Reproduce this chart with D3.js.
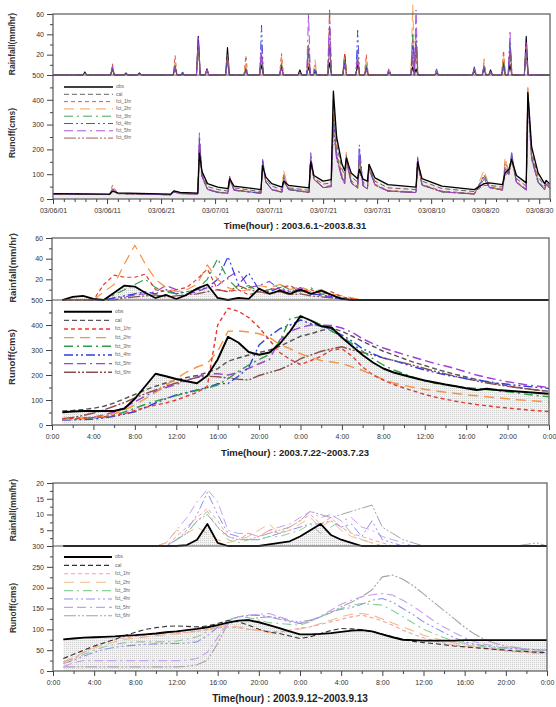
<!DOCTYPE html>
<html><head><meta charset="utf-8">
<script src="https://cdn.jsdelivr.net/npm/d3@7"></script>
<style>body{margin:0;background:#fff}svg{display:block}text{font-family:Arial,"Liberation Sans",sans-serif}</style>
</head><body><svg id="c" width="556" height="707"></svg>
<script>
// ---------------- series ----------------
const SERIES = ["obs","cal","fct_1hr","fct_2hr","fct_3hr","fct_4hr","fct_5hr","fct_6hr"];
const COLORS = ["#000000","#555555","#e8392f","#f5953f","#2e9e48","#2f3fe0","#a040d8","#8c4f4f"];
const COLORS_LIGHT = ["#000000","#333333","#f2a0a8","#f5b98a","#8ccf9c","#8f8fef","#c7a0ee","#a9a0a8"];
const DASHES = [null,"5,3","4,3","10,6","9,4,2,4","9,3,2,3,2,3","9,4,9,4,2,4","12,2,2,2,2,2"];

// ---------------- panel 1 : 2003.6.1~2003.8.31 (days since 06/01) ----------------
const P1_DATE_TICKS = [0,10,20,30,40,50,60,70,80,90];
const P1_DATE_LABELS = ["03/06/01","03/06/11","03/06/21","03/07/01","03/07/11","03/07/21","03/07/31","03/08/10","03/08/20","03/08/30"];
const P1_T = [0,10.5,11,12,21.8,22.4,23.5,26.8,27.1,27.6,28.6,30.5,32.4,32.7,33.5,38.5,38.8,39.4,40.5,42.4,42.7,43.6,47.4,47.7,48.3,50,51.5,51.9,52.5,53.5,54.0,54.3,55.2,56.4,56.7,57.4,58.2,58.5,59.6,62,67.2,67.5,68.3,72,78,79.8,80.8,83.2,83.7,84.4,84.9,85.8,87.6,87.9,88.6,89.8,91.0,91.3,92];
const P1_Q_obs = [22,20,32,25,20,33,27,24,185,110,62,48,42,82,52,38,135,88,62,48,72,55,45,150,95,72,78,435,250,140,115,165,105,82,120,80,72,140,85,58,48,150,82,52,38,62,65,58,105,120,160,95,65,430,210,105,62,75,60];
const P1_Q_cal = [20,18,28,22,18,30,25,22,170,100,50,38,32,75,45,30,125,80,52,38,65,45,35,140,85,60,65,400,220,120,95,150,90,68,110,68,58,130,72,45,38,140,72,42,30,55,55,48,95,110,150,82,52,410,190,90,52,70,52];
const P1_Q_f1 = [20,18,55,22,17,30,22,20,230,90,40,28,25,90,38,25,150,70,40,30,105,40,28,160,80,48,55,380,190,95,70,180,75,50,150,55,45,135,60,35,28,160,60,32,22,95,50,40,150,110,170,70,40,449,180,75,42,68,45];
const P1_Q_f2 = [20,18,45,22,17,28,22,20,220,85,38,27,24,85,36,24,145,68,38,28,114,40,27,165,78,46,52,360,180,90,66,190,70,48,160,52,42,130,58,33,27,165,58,30,21,117,48,38,169,105,160,68,38,440,175,72,40,65,43];
const P1_Q_f3 = [20,18,40,22,17,28,22,20,240,88,38,26,23,80,35,23,150,68,37,27,90,38,26,170,80,45,50,340,175,88,64,175,68,46,180,52,40,125,56,32,26,160,56,29,20,100,46,36,140,100,175,66,36,420,170,70,38,62,42];
const P1_Q_f4 = [20,18,40,22,17,28,22,20,250,90,38,26,23,85,35,23,161,70,37,27,85,38,26,175,80,45,50,320,170,85,62,170,66,45,218,55,40,130,56,32,26,165,56,29,20,90,46,36,130,105,185,66,36,410,165,68,38,60,42];
const P1_Q_f5 = [20,18,42,22,17,28,22,20,267,95,38,26,23,93,35,23,160,70,37,27,80,38,26,187,85,45,50,300,165,82,60,165,64,44,200,55,40,140,56,32,26,170,56,29,20,85,46,36,125,100,187,66,36,400,160,66,37,60,42];
const P1_Q_f6 = [20,18,38,22,17,28,22,20,210,92,40,28,24,78,36,24,140,68,38,28,75,38,27,160,80,46,50,280,160,82,60,150,64,44,170,55,40,120,56,32,26,140,56,29,20,80,46,36,120,95,170,66,36,390,160,66,37,58,42];
const P1_RAIN_DAYS = [5.9,11.0,13.5,16.0,22.6,24.0,26.9,28.5,32.3,35.7,38.6,42.3,45.7,47.3,48.5,51.2,54.0,56.4,58.0,62.2,66.6,67.2,71.0,78.0,79.8,81.0,83.4,84.6,87.6];
const P1_R_obs = [3,6,2,2,8,1,38,6,27,6,10,8,5,8,4,12,20,10,8,3,8,6,2,4,6,5,12,10,38];
const P1_R_f1 = [2,11,1,1,19,2,30,5,20,19,22,21,2,12,10,30,21,15,20,7,40,20,3,5,12,4,24,20,30];
const P1_R_f2 = [2,8,1,1,12,3,25,5,18,12,15,18,2,15,15,64,18,8,15,4,69,25,3,6,16,3,20,25,28];
const P1_R_f3 = [2,6,1,1,10,2,28,4,16,8,18,12,2,20,8,25,15,20,10,3,40,30,3,8,10,3,15,30,25];
const P1_R_f4 = [2,7,2,1,9,3,35,5,15,5,49,10,2,25,6,49,12,44,8,5,30,40,6,8,9,3,10,35,22];
const P1_R_f5 = [2,9,1,1,8,2,39,6,14,4,30,8,2,61,5,64,10,25,6,6,20,64,4,7,8,3,8,42,32];
const P1_R_f6 = [2,5,1,1,6,1,30,4,12,3,20,6,2,30,3,28,8,15,4,2,15,35,2,5,5,2,6,28,20];

// ---------------- panel 2 : 2003.7.22~2003.7.23 (hour 1..48) ----------------
const HOURS = d3.range(1,49);
const HOUR_TICKS = [0,4,8,12,16,20,24,28,32,36,40,44,48];
const HOUR_LABELS = ["0:00","4:00","8:00","12:00","16:00","20:00","0:00","4:00","8:00","12:00","16:00","20:00","0:00"];
const P2_Q_obs = [51,54,56,56,56,56,66,105,155,205,195,184,175,167,197,262,353,330,292,281,290,325,375,436,418,395,390,350,315,280,250,226,210,199,188,178,170,162,155,147,140,145,140,137,134,131,128,125];
const P2_Q_cal = [56,58,62,67,75,88,105,122,140,155,168,180,190,198,210,225,255,268,280,290,300,315,335,355,365,378,387,375,355,335,315,295,280,265,250,238,225,213,202,192,182,173,165,157,150,144,139,135];
const P2_Q_f1 = [25,27,28,30,33,38,45,58,70,80,88,100,115,130,155,400,467,455,430,390,340,290,262,242,258,275,300,305,275,232,200,180,162,148,135,122,112,103,95,88,82,77,72,68,64,60,57,54];
const P2_Q_f2 = [22,24,27,30,36,45,60,80,105,130,160,185,212,232,247,295,375,376,372,365,350,322,305,285,270,258,252,246,232,218,200,182,168,158,150,143,137,131,126,121,117,113,109,105,101,98,95,92];
const P2_Q_f3 = [22,24,26,28,32,40,52,67,82,95,107,118,128,138,148,160,185,215,240,262,282,335,425,433,420,400,375,355,325,295,265,240,220,205,190,177,167,160,155,150,146,142,138,133,128,122,117,113];
const P2_Q_f4 = [20,21,22,24,28,35,44,53,70,88,105,120,130,140,150,165,166,195,230,320,355,385,400,420,405,395,382,360,335,305,285,268,258,245,232,220,210,200,193,186,180,174,168,163,158,154,150,146];
const P2_Q_f5 = [22,24,27,32,40,52,70,93,115,135,150,162,178,192,205,205,200,210,227,245,262,340,375,390,400,400,398,388,370,345,325,308,295,282,270,258,246,236,225,212,200,190,181,173,166,160,155,150];
const P2_Q_f6 = [25,30,38,48,60,75,90,108,125,140,155,168,180,190,195,193,188,183,180,198,210,222,240,265,280,295,305,313,300,290,280,268,258,248,238,226,215,204,194,185,176,168,161,155,149,144,139,135];
const P2_R_obs = [0,3,4,1,0,7,14,13,7,2,5,1,5,11,15,2,0,2,1,11,6,9,6,10,6,9,5,1,0,0,0,0,0,0,0,0,0,0,0,0,0,0,0,0,0,0,0,0];
const P2_R_f1 = [0,0,0,0,15,24,22,22,25,10,8,10,12,20,30,10,8,10,5,8,10,12,14,8,10,6,8,3,1,0,0,0,0,0,0,0,0,0,0,0,0,0,0,0,0,0,0,0];
const P2_R_f2 = [0,0,0,0,8,15,35,53,35,20,12,8,10,15,34,20,12,8,10,14,12,15,10,13,8,10,6,4,2,0,0,0,0,0,0,0,0,0,0,0,0,0,0,0,0,0,0,0];
const P2_R_f3 = [0,0,0,0,0,5,10,15,20,12,8,6,8,10,20,40,20,10,14,8,10,15,10,8,12,6,4,2,0,0,0,0,0,0,0,0,0,0,0,0,0,0,0,0,0,0,0,0];
const P2_R_f4 = [0,0,0,0,0,2,4,6,8,6,10,6,8,10,12,20,42,15,26,10,8,12,8,10,6,5,3,1,0,0,0,0,0,0,0,0,0,0,0,0,0,0,0,0,0,0,0,0];
const P2_R_f5 = [0,0,0,0,0,2,3,5,6,8,14,10,6,8,12,14,22,28,12,14,18,10,8,12,6,4,3,1,0,0,0,0,0,0,0,0,0,0,0,0,0,0,0,0,0,0,0,0];
const P2_R_f6 = [0,0,0,0,0,0,2,3,4,5,3,4,5,6,8,10,8,14,10,8,6,8,5,6,4,3,2,1,0,0,0,0,0,0,0,0,0,0,0,0,0,0,0,0,0,0,0,0];

// ---------------- panel 3 : 2003.9.12~2003.9.13 (hour 1..48) ----------------
const P3_Q_obs = [76,78,80,81,82,83,85,86,88,90,93,95,98,101,105,110,116,121,122,117,110,103,95,88,88,89,91,94,97,98,95,88,81,75,74,73,73,73,73,74,74,74,74,74,74,74,74,74];
const P3_Q_cal = [30,40,50,60,68,76,85,93,100,104,107,108,107,106,108,114,121,118,110,100,93,90,84,78,82,90,97,102,101,99,95,89,82,76,71,68,66,63,60,58,56,54,52,50,48,47,45,44];
const P3_Q_f1 = [18,30,45,58,68,75,80,83,86,89,91,92,93,95,99,103,106,104,100,98,95,94,98,103,106,112,118,124,130,134,128,120,110,98,88,80,73,67,62,59,56,53,51,48,46,44,43,42];
const P3_Q_f2 = [22,33,45,55,63,70,76,79,82,85,87,89,92,96,100,105,110,106,100,97,92,94,97,101,106,114,122,130,136,138,134,125,115,106,96,86,79,72,67,63,59,55,52,49,47,45,43,42];
const P3_Q_f3 = [22,30,40,50,58,64,68,70,70,70,70,72,76,82,95,110,122,130,128,122,116,114,112,110,118,130,142,150,158,162,160,158,145,130,115,100,90,80,72,66,62,58,55,52,50,48,47,46];
const P3_Q_f4 = [18,26,36,45,52,57,60,62,64,65,66,66,67,70,85,105,122,130,133,134,130,124,118,114,120,130,142,148,152,160,170,174,165,150,135,118,105,92,80,70,64,60,57,55,53,52,51,50];
const P3_Q_f5 = [10,20,25,25,25,25,25,25,25,25,25,25,26,30,45,80,118,130,134,136,138,130,122,114,120,132,146,160,170,178,183,186,182,170,155,138,120,105,92,80,70,64,60,56,54,52,51,50];
const P3_Q_f6 = [10,10,10,10,10,10,10,10,10,10,10,10,11,15,26,66,114,120,124,128,130,128,120,118,122,130,140,154,165,178,195,226,230,220,205,185,165,145,125,105,88,75,66,60,56,53,51,50];
const P3_R_obs = [0,0,0,0,0,0,0,0,0,0,0,0,0.3,2,7,1,0,0,0,0,0.5,1,1.5,3,5,7,3.5,2,1,0,0,0,0,0,0,0,0,0,0,0,0,0,0,0,0,0,0,0];
const P3_R_f1 = [0,0,0,0,0,0,0,0,0,0,0,3,6,9,12,8,3,2,4,3,5,4,6,8,10,7,9,6,4,3,2,1,0,0,0,0,0,0,0,0,0,0,0,0,0,0,0,0];
const P3_R_f2 = [0,0,0,0,0,0,0,0,0,0,1,5,4,6,4,2,1,2,3,5,7,4,5,7,9,6,8,5,3,2,1,0,0,0,0,0,0,0,0,0,0,0,0,0,0,0,0,0];
const P3_R_f3 = [0,0,0,0,0,0,0,0,0,0,0,2,4,8,11,6,2,1,2,2,3,3,4,5,7,4,6,8,4,2,1,0,0,0,0,0,0,0,0,0,0,0,0,0,0,0,0,0];
const P3_R_f4 = [0,0,0,0,0,0,0,0,0,0,0,2,5,10,17,10,4,3,2,2,3,4,5,6,7,7,8,6,7,3,8,2,1,0,0,0,0,0,0,0,0,0,0,0,0,0,0,0];
const P3_R_f5 = [0,0,0,0,0,0,0,0,0,0,1,5,9,14,18,14,5,4,4,3,5,6,7,9,11,9,10,8,9,6,5,3,2,1,0,0,0,0,0,0,0,0,0,0,0,0,0,0];
const P3_R_f6 = [0,0,0,0,0,0,0,0,0,0,0,2,4,8,10,6,3,2,2,3,4,5,6,8,11,10,9,10,11,12,13,6,4,2,1,0,0,0,0,0,0,0,0,0,0,0.5,1,0];

// ---------------- drawing ----------------
const svg = d3.select("#c");
const defs = svg.append("defs");
const pat = defs.append("pattern").attr("id","hatch").attr("patternUnits","userSpaceOnUse").attr("width",2).attr("height",2);
pat.append("rect").attr("width",2).attr("height",2).attr("fill","#f3f3f3");
pat.append("rect").attr("width",1).attr("height",1).attr("fill","#d0d0d0");

const RAIN_IDX = [0,2,3,4,5,6,7]; // rainfall series -> SERIES index

function spikes(days, vals, end) {
  const pts = [[0,0]];
  days.forEach((d,i) => { pts.push([d-0.35,0],[d,vals[i]],[d+0.35,0]); });
  pts.push([end,0]);
  return pts;
}

function drawPanel(c) {
  const g = svg.append("g");
  const x = d3.scaleLinear().domain(c.xDomain).range([c.x0, c.x1]);
  const yR = d3.scaleLinear().domain([0, c.rainMax]).range([c.yBase, c.yTop]);
  const yQ = d3.scaleLinear().domain([0, c.qMax]).range([c.yBottom, c.yBase]);
  const lineR = d3.line().x(d => x(d[0])).y(d => yR(d[1]));
  const lineQ = d3.line().x(d => x(d[0])).y(d => yQ(d[1]));
  const cols = c.colors;

  g.append("path").datum(c.q[0]).attr("fill", c.qFill)
    .attr("d", d3.area().x(d => x(d[0])).y0(yQ(0)).y1(d => yQ(d[1])));
  if (c.rainFill) g.append("path").datum(c.r[0]).attr("fill", c.rainFill)
    .attr("d", d3.area().x(d => x(d[0])).y0(yR(0)).y1(d => yR(d[1])));

  c.qOrder.forEach(i => {
    g.append("path").datum(c.q[i]).attr("d", lineQ).attr("fill","none")
      .attr("stroke", cols[i]).attr("stroke-width", i === 0 ? c.obsW : c.lw)
      .attr("stroke-dasharray", DASHES[i]).attr("stroke-linejoin","round");
  });
  c.rOrder.forEach(k => {
    const i = RAIN_IDX[k];
    g.append("path").datum(c.r[k]).attr("d", lineR).attr("fill","none")
      .attr("stroke", cols[i]).attr("stroke-width", i === 0 ? c.obsRW : c.rlw)
      .attr("stroke-dasharray", DASHES[i]).attr("stroke-linejoin","round");
  });

  g.append("rect").attr("x", c.x0).attr("y", c.yTop).attr("width", c.x1 - c.x0).attr("height", c.yBottom - c.yTop)
    .attr("fill","none").attr("stroke","#666").attr("stroke-width",1.3);
  g.append("line").attr("x1", c.x0).attr("x2", c.x1).attr("y1", c.yBase).attr("y2", c.yBase)
    .attr("stroke","#555").attr("stroke-width",1.1);

  function styleAxis(ax, fs) {
    ax.select(".domain").remove();
    ax.selectAll("line").attr("stroke","#444").attr("stroke-width",1);
    ax.selectAll("text").attr("font-size", fs).attr("fill","#333").attr("font-family","Arial, 'Liberation Sans', sans-serif");
  }
  [[yR, c.rMajor, c.rLabels, c.rMinor],[yQ, c.qMajor, c.qLabels, c.qMinor]].forEach(([s, maj, lab, mn]) => {
    const a = g.append("g").attr("transform", `translate(${c.x0},0)`)
      .call(d3.axisLeft(s).tickValues(maj).tickSize(6).tickPadding(3).tickFormat((d,i) => lab[i]));
    styleAxis(a, c.tickFs);
    const b = g.append("g").attr("transform", `translate(${c.x0},0)`)
      .call(d3.axisLeft(s).tickValues(mn).tickSize(3).tickFormat(""));
    styleAxis(b, c.tickFs);
  });
  const xa = g.append("g").attr("transform", `translate(0,${c.yBottom})`)
    .call(d3.axisBottom(x).tickValues(c.xMajor).tickSize(5).tickPadding(4).tickFormat((d,i) => c.xLabels[i]));
  styleAxis(xa, c.tickFs);
  const xb = g.append("g").attr("transform", `translate(0,${c.yBottom})`)
    .call(d3.axisBottom(x).tickValues(c.xMinor).tickSize(3).tickFormat(""));
  styleAxis(xb, c.tickFs);

  g.append("text").attr("x", c.titleX).attr("y", c.titleY).attr("text-anchor","middle")
    .attr("font-size", c.titleFs).attr("font-weight","bold").attr("fill","#222").text(c.title);
  g.append("text").attr("transform", `translate(${c.rTitle[0]},${c.rTitle[1]}) rotate(-90)`)
    .attr("text-anchor","middle").attr("dominant-baseline","middle")
    .attr("font-size", c.yTitleFs).attr("font-weight","bold").attr("fill","#333").text("Rainfall(mm/hr)");
  g.append("text").attr("transform", `translate(${c.qTitle[0]},${c.qTitle[1]}) rotate(-90)`)
    .attr("text-anchor","middle").attr("dominant-baseline","middle")
    .attr("font-size", c.yTitleFs).attr("font-weight","bold").attr("fill","#333").text("Runoff(cms)");

  SERIES.forEach((name, i) => {
    const y = c.leg.y0 + i * c.leg.dy;
    g.append("line").attr("x1", c.leg.x1).attr("x2", c.leg.x2).attr("y1", y).attr("y2", y)
      .attr("stroke", cols[i]).attr("stroke-width", i === 0 ? c.obsW : c.lw).attr("stroke-dasharray", DASHES[i]);
    g.append("text").attr("x", c.leg.tx).attr("y", y).attr("dominant-baseline","middle")
      .attr("font-size", c.leg.fs).attr("fill","#666").text(name);
  });
}

const even = (a,b,s) => d3.range(a,b+0.001,s);

const p1q = [P1_Q_obs,P1_Q_cal,P1_Q_f1,P1_Q_f2,P1_Q_f3,P1_Q_f4,P1_Q_f5,P1_Q_f6].map(v => P1_T.map((t,k) => [t, v[k]]));
const p1r = [P1_R_obs,P1_R_f1,P1_R_f2,P1_R_f3,P1_R_f4,P1_R_f5,P1_R_f6].map(v => spikes(P1_RAIN_DAYS, v, 92));
drawPanel({
  xDomain:[0,92], x0:53, x1:550, yTop:14, yBase:75, yBottom:199, rainMax:60, qMax:500,
  q:p1q, r:p1r, qFill:"#ececec", rainFill:null, colors:COLORS,
  qOrder:[1,2,3,4,5,7,6,0], rOrder:[0,1,2,3,4,6,5],
  lw:0.9, obsW:1.3, rlw:0.9, obsRW:1.1,
  rMajor:[20,40,60], rLabels:["20","40","60"], rMinor:[10,30,50],
  qMajor:[0,100,200,300,400,500], qLabels:["0","100","200","300","400","500"], qMinor:[50,150,250,350,450],
  xMajor:P1_DATE_TICKS, xLabels:P1_DATE_LABELS, xMinor:even(2,92,2).filter(d => d % 10 !== 0),
  tickFs:7, title:"Time(hour) : 2003.6.1~2003.8.31", titleX:295, titleY:229, titleFs:9.5,
  rTitle:[13,44], qTitle:[13,133], yTitleFs:8.5,
  leg:{x1:64, x2:113, tx:116, y0:87, dy:7.3, fs:5}
});

const p2q = [P2_Q_obs,P2_Q_cal,P2_Q_f1,P2_Q_f2,P2_Q_f3,P2_Q_f4,P2_Q_f5,P2_Q_f6].map(v => HOURS.map((h,k) => [h, v[k]]));
const p2r = [P2_R_obs,P2_R_f1,P2_R_f2,P2_R_f3,P2_R_f4,P2_R_f5,P2_R_f6].map(v => HOURS.map((h,k) => [h, v[k]]));
drawPanel({
  xDomain:[0,48], x0:52, x1:549, yTop:238, yBase:300, yBottom:425, rainMax:60, qMax:500,
  q:p2q, r:p2r, qFill:"url(#hatch)", rainFill:"url(#hatch)", colors:COLORS,
  qOrder:[1,7,6,5,4,3,2,0], rOrder:[6,5,4,3,2,1,0],
  lw:1.4, obsW:1.9, rlw:1.2, obsRW:1.8,
  rMajor:[20,40,60], rLabels:["20","40","60"], rMinor:[10,30,50],
  qMajor:[0,100,200,300,400,500], qLabels:["0","100","200","300","400","500"], qMinor:[50,150,250,350,450],
  xMajor:HOUR_TICKS, xLabels:HOUR_LABELS, xMinor:even(2,46,4),
  tickFs:7, title:"Time(hour) : 2003.7.22~2003.7.23", titleX:295, titleY:456, titleFs:9.5,
  rTitle:[13,268], qTitle:[12,357], yTitleFs:9.5,
  leg:{x1:64, x2:112, tx:115, y0:311.7, dy:8.65, fs:5.2}
});

const p3q = [P3_Q_obs,P3_Q_cal,P3_Q_f1,P3_Q_f2,P3_Q_f3,P3_Q_f4,P3_Q_f5,P3_Q_f6].map(v => HOURS.map((h,k) => [h, v[k]]));
const p3r = [P3_R_obs,P3_R_f1,P3_R_f2,P3_R_f3,P3_R_f4,P3_R_f5,P3_R_f6].map(v => HOURS.map((h,k) => [h, v[k]]));
drawPanel({
  xDomain:[0,48], x0:53, x1:547, yTop:483, yBase:546, yBottom:671, rainMax:20, qMax:300,
  q:p3q, r:p3r, qFill:"url(#hatch)", rainFill:"url(#hatch)", colors:COLORS_LIGHT,
  qOrder:[7,6,5,4,3,2,1,0], rOrder:[6,5,4,3,2,1,0],
  lw:1.1, obsW:1.9, rlw:1.0, obsRW:1.8,
  rMajor:[5,10,15,20], rLabels:["5","10","15","20"], rMinor:[2.5,7.5,12.5,17.5],
  qMajor:[0,50,100,150,200,250,300], qLabels:["0","50","100","150","200","250","300"], qMinor:[25,75,125,175,225,275],
  xMajor:HOUR_TICKS, xLabels:HOUR_LABELS, xMinor:even(2,46,4),
  tickFs:7, title:"Time(hour) : 2003.9.12~2003.9.13", titleX:290, titleY:702, titleFs:10,
  rTitle:[14,510], qTitle:[14,608], yTitleFs:8.5,
  leg:{x1:64, x2:112, tx:115, y0:557, dy:8.4, fs:5}
});
</script></body></html>
